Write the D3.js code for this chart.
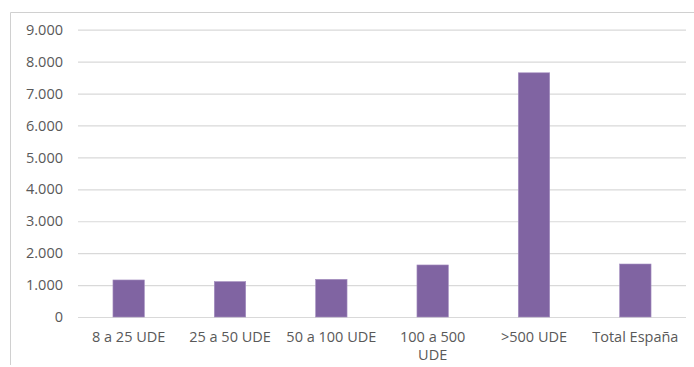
<!DOCTYPE html>
<html>
<head>
<meta charset="utf-8">
<script src="https://cdn.jsdelivr.net/npm/d3@7"></script>
<style>
  html, body { margin: 0; padding: 0; background: #fff; }
  svg { display: block; }
</style>
</head>
<body>
<svg id="chart" width="694" height="367"></svg>
<script>
// Categories (each entry is a list of lines for the axis label)
const categories = ["8 a 25 UDE", "25 a 50 UDE", "50 a 100 UDE", "100 a 500 UDE", ">500 UDE", "Total España"];
const categoryLines = [["8 a 25 UDE"], ["25 a 50 UDE"], ["50 a 100 UDE"], ["100 a 500", "UDE"], [">500 UDE"], ["Total España"]];
const values = [1160, 1110, 1180, 1630, 7650, 1660];
const yTicks = [0, 1000, 2000, 3000, 4000, 5000, 6000, 7000, 8000, 9000];

const svg = d3.select("#chart");
const W = 694, H = 367;
const margin = { left: 78, right: 8, top: 30, bottom: 50 };
const fontFamily = "'Open Sans', sans-serif";
const textColor = "#595959";

// chart frame (top and left edges visible)
svg.append("line").attr("x1", 10.5).attr("x2", W).attr("y1", 12.5).attr("y2", 12.5)
  .attr("stroke", "#d0d0d0").attr("stroke-width", 1);
svg.append("line").attr("x1", 10.5).attr("x2", 10.5).attr("y1", 12.5).attr("y2", 365)
  .attr("stroke", "#d0d0d0").attr("stroke-width", 1);

const x = d3.scaleBand()
  .domain(categories)
  .range([margin.left, 686])
  .paddingInner(0.69)
  .paddingOuter(0.345);

const y = d3.scaleLinear()
  .domain([0, 9000])
  .range([317, 29.7]);

// gridlines
const yAxis = d3.axisLeft(y)
  .tickValues(yTicks)
  .tickSize(-(686 - margin.left))
  .tickPadding(15)
  .tickFormat(d => d3.format(",")(d).replace(/,/g, "."));

const gy = svg.append("g")
  .attr("transform", `translate(${margin.left},0)`)
  .call(yAxis);
gy.select(".domain").remove();
gy.selectAll(".tick line").attr("stroke", "#d9d9d9").attr("stroke-width", 1.2);
gy.selectAll(".tick text")
  .attr("fill", textColor)
  .attr("font-family", fontFamily)
  .attr("font-size", 14.5);

// bars
svg.append("g").selectAll("rect")
  .data(values)
  .join("rect")
  .attr("x", (d, i) => x(categories[i]))
  .attr("width", x.bandwidth())
  .attr("y", d => y(d))
  .attr("height", d => y(0) - y(d))
  .attr("fill", "#8064a2")
  .attr("stroke", "#a58fc0")
  .attr("stroke-width", 0.6);

// category labels
const xAxis = d3.axisBottom(x).tickSize(0).tickPadding(0).tickFormat("");
const gx = svg.append("g")
  .attr("transform", `translate(0,${y(0)})`)
  .call(xAxis);
gx.select(".domain").remove();
gx.selectAll(".tick").each(function(d, i) {
  const t = d3.select(this).append("text")
    .attr("fill", textColor)
    .attr("font-family", fontFamily)
    .attr("font-size", 14.5)
    .attr("text-anchor", "middle");
  categoryLines[i].forEach((line, j) => {
    t.append("tspan").attr("x", 0).attr("y", 25 + j * 18).text(line);
  });
});
</script>
</body>
</html>
